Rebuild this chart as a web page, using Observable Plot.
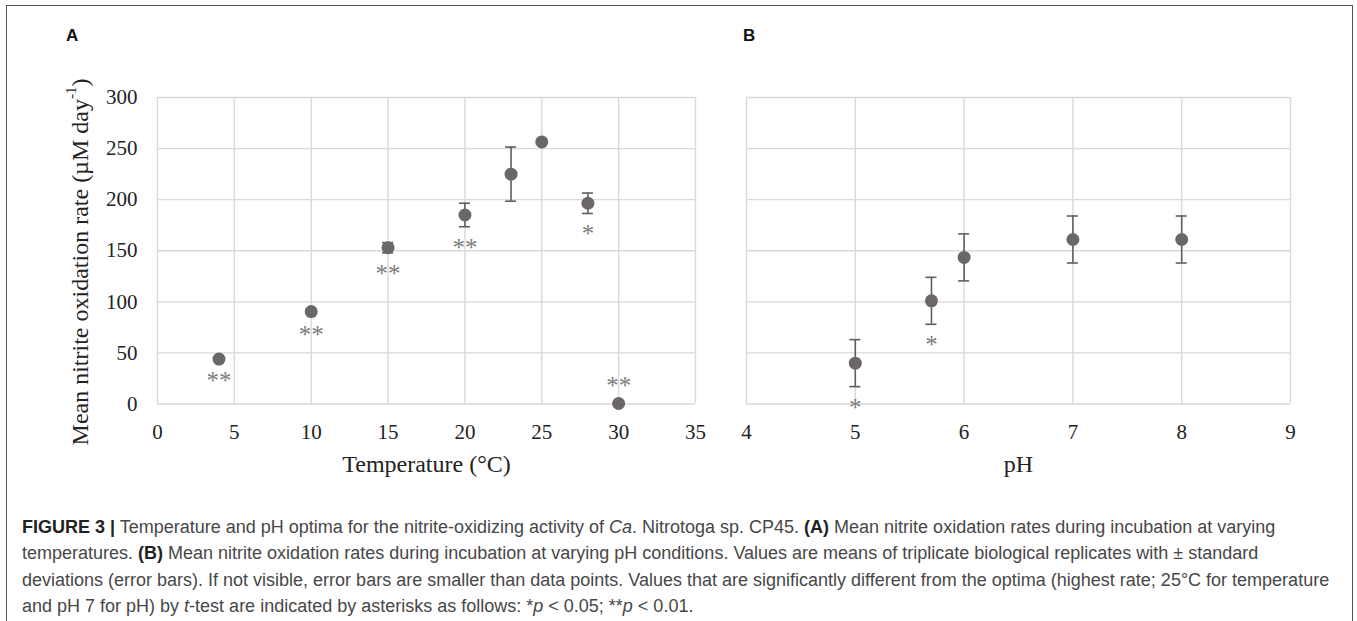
<!DOCTYPE html>
<html><head><meta charset="utf-8">
<script src="https://cdn.jsdelivr.net/npm/d3@7"></script>
<script src="https://cdn.jsdelivr.net/npm/@observablehq/plot@0.6"></script>
<style>
body{margin:0;background:#fff;width:1357px;height:621px;overflow:hidden;position:relative;font-family:"Liberation Sans",Arial,sans-serif}
#frame{position:absolute;left:6px;top:5px;width:1347px;height:640px;border:1.5px solid #555;box-sizing:border-box}
.panel{position:absolute;top:0}
.tag{position:absolute;font:bold 17px "Liberation Sans",Arial,sans-serif;color:#111}
#caption{position:absolute;left:22px;top:514px;font-size:18px;line-height:26.3px;color:#474747;white-space:nowrap}
#caption b{color:#222}
</style></head><body>
<div id="frame"></div>
<div class="tag" style="left:66px;top:26px">A</div>
<div class="tag" style="left:743px;top:26px">B</div>
<div id="panelA" class="panel" style="left:0"></div>
<div id="panelB" class="panel" style="left:720px"></div>
<div id="caption">
<div><b>FIGURE 3 |</b> Temperature and pH optima for the nitrite-oxidizing activity of <i>Ca</i>. Nitrotoga sp. CP45. <b>(A)</b> Mean nitrite oxidation rates during incubation at varying</div>
<div>temperatures. <b>(B)</b> Mean nitrite oxidation rates during incubation at varying pH conditions. Values are means of triplicate biological replicates with ± standard</div>
<div>deviations (error bars). If not visible, error bars are smaller than data points. Values that are significantly different from the optima (highest rate; 25°C for temperature</div>
<div>and pH 7 for pH) by <i>t</i>-test are indicated by asterisks as follows: *<i>p</i> &lt; 0.05; **<i>p</i> &lt; 0.01.</div>
</div>
<script>
// ---- data ----
const tempC = [4, 10, 15, 20, 23, 25, 28, 30];
const tempRate = [44, 90.5, 153, 185, 225, 256.5, 196.5, 0.5];
const tempSD = [1, 2, 5, 11.5, 26.5, 2, 10, 0];
const tempSig = ["**", "**", "**", "**", "", "", "*", "**"];
const tempSigSide = ["below", "below", "below", "below", "", "", "below", "above"];

const pHVals = [5, 5.7, 6, 7, 8];
const pHRate = [40, 101, 143.5, 161, 161];
const pHSD = [23, 23, 23, 23, 23];
const pHSig = ["*", "*", "", "", ""];
const pHSigSide = ["below", "below", "", "", ""];

const tempTicks = [0, 5, 10, 15, 20, 25, 30, 35];
const pHTicks = [4, 5, 6, 7, 8, 9];
const rateTicks = [0, 50, 100, 150, 200, 250, 300];

const xTitleA = "Temperature (°C)";
const xTitleB = "pH";

const tempData = tempC.map((x, i) => ({x, rate: tempRate[i], sd: tempSD[i], sig: tempSig[i], side: tempSigSide[i]}));
const pHData = pHVals.map((x, i) => ({x, rate: pHRate[i], sd: pHSD[i], sig: pHSig[i], side: pHSigSide[i]}));

const dotColor = "#6b6768";
const errColor = "#5f5f5f";
const sigColor = "#7d7d7d";
const gridColor = "#d9d9d9";
const serif = "'Liberation Serif','Times New Roman',serif";

function panel(data, xDomain, xTicks, xTitle, width, mLeft, mRight, showY) {
  const marks = [
    Plot.gridX(xTicks, {stroke: gridColor, strokeOpacity: 1, strokeWidth: 1.4}),
    Plot.gridY(rateTicks, {stroke: gridColor, strokeOpacity: 1, strokeWidth: 1.4}),
    Plot.axisX(xTicks, {tickSize: 0, tickPadding: 20, fontSize: 21, label: null}),
    showY ? Plot.axisY(rateTicks, {tickSize: 0, tickPadding: 20, fontSize: 21, label: null}) : null,
    Plot.ruleX(data, {x: "x", y1: d => d.rate - d.sd, y2: d => d.rate + d.sd, stroke: errColor, strokeWidth: 1.6}),
    Plot.ruleY(data, {x1: "x", x2: "x", y: d => d.rate - d.sd, insetLeft: -5.5, insetRight: -5.5, stroke: errColor, strokeWidth: 1.6}),
    Plot.ruleY(data, {x1: "x", x2: "x", y: d => d.rate + d.sd, insetLeft: -5.5, insetRight: -5.5, stroke: errColor, strokeWidth: 1.6}),
    Plot.dot(data, {x: "x", y: "rate", r: 6.5, fill: dotColor, stroke: "none"}),
    Plot.text(data.filter(d => d.side === "below"), {x: "x", y: d => d.rate - d.sd, text: "sig", dy: 21, fontSize: 25, fill: sigColor, lineAnchor: "middle", fontFamily: serif}),
    Plot.text(data.filter(d => d.side === "above"), {x: "x", y: "rate", text: "sig", dy: -17, fontSize: 25, fill: sigColor, lineAnchor: "middle", fontFamily: serif}),
    Plot.text([xTitle], {text: d => d, frameAnchor: "bottom", dy: 60, fontSize: 24, lineAnchor: "middle", fill: "#222"})
  ].filter(Boolean);
  return Plot.plot({
    width, height: 490,
    marginLeft: mLeft, marginRight: mRight, marginTop: 97, marginBottom: 86.5,
    x: {domain: xDomain, ticks: xTicks},
    y: {domain: [0, 300], axis: null},
    style: {fontFamily: serif, color: "#222", background: "transparent", overflow: "visible"},
    marks
  });
}

const svgA = panel(tempData, [0, 35], tempTicks, xTitleA, 720, 157, 25, true);
document.getElementById("panelA").appendChild(svgA);
const svgB = panel(pHData, [4, 9], pHTicks, xTitleB, 620, 26, 50, false);
document.getElementById("panelB").appendChild(svgB);

// y-axis title with superscript
const yt = d3.select(svgA).append("text")
  .attr("transform", "translate(80,262) rotate(-90)")
  .attr("text-anchor", "middle")
  .attr("dominant-baseline", "central")
  .attr("font-family", serif)
  .attr("font-size", 24)
  .attr("fill", "#222");
yt.append("tspan").text("Mean nitrite oxidation rate (µM day");
yt.append("tspan").attr("font-size", 15).attr("dy", -9).text("-1");
yt.append("tspan").attr("dy", 9).text(")");
</script>
</body></html>
